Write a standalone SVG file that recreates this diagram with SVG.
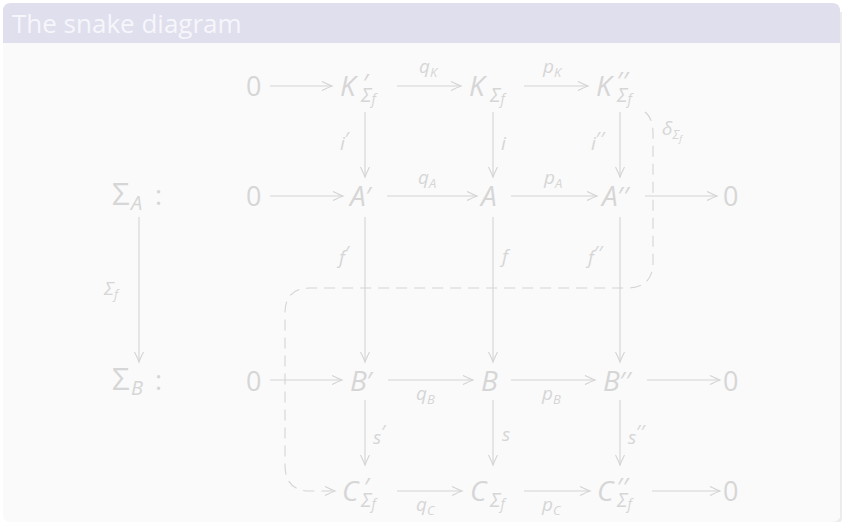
<svg xmlns="http://www.w3.org/2000/svg" width="843" height="528" viewBox="0 0 843 528">
<defs>
<style>
.t{font-family:"Open Sans","DejaVu Sans",sans-serif;fill:#d6d6d6}
.m{font-size:28px;font-style:italic}
.n{font-size:27px;font-style:normal}
.p{font-size:26px;font-style:normal}
.s{font-size:20px;font-style:italic}
.f{font-size:14px;font-style:italic}
.l{font-size:19px;font-style:italic}
.ls{font-size:13px;font-style:italic}
.lp{font-size:20px;font-style:normal}
.e{stroke:#d4d4d4;stroke-width:1.1;fill:none}
.d{stroke-dasharray:11 7}
.hd{fill:none;stroke:#d4d4d4;stroke-width:1.1}
</style>
<marker id="ah" markerUnits="userSpaceOnUse" markerWidth="14" markerHeight="14" refX="0" refY="0" viewBox="-12 -7 14 14" orient="auto">
<path class="hd" d="M-10,-4.5 Q-3,-1 0,0 Q-3,1 -10,4.5"/>
</marker>
</defs>
<rect x="0" y="0" width="843" height="528" fill="#ffffff"/>
<path d="M6,522 L840,522 Q842,522 842,518 L842,12 L840,12 L840,518 Z" fill="#ececec"/>
<path d="M3,43 L840,43 L840,514 Q840,522 832,522 L11,522 Q3,522 3,514 Z" fill="#fafafa"/>
<path d="M3,43 L3,11 Q3,3 11,3 L832,3 Q840,3 840,11 L840,43 Z" fill="#dfdfed"/>
<text id="title" x="12" y="33" style="font-family:'Open Sans','DejaVu Sans',sans-serif;font-size:26px;fill:#f6f6fb">The snake diagram</text>

<g id="connectors">
<path class="e" d="M270,86 L332,86" marker-end="url(#ah)"/>
<path class="e" d="M397,86 L461,86" marker-end="url(#ah)"/>
<path class="e" d="M524,86 L588,86" marker-end="url(#ah)"/>
<path class="e" d="M365,112 L365,177" marker-end="url(#ah)"/>
<path class="e" d="M493,112 L493,177" marker-end="url(#ah)"/>
<path class="e" d="M620,112 L620,177" marker-end="url(#ah)"/>
<path class="e" d="M270,196 L343,196" marker-end="url(#ah)"/>
<path class="e" d="M387,196 L477,196" marker-end="url(#ah)"/>
<path class="e" d="M511,196 L597,196" marker-end="url(#ah)"/>
<path class="e" d="M645,196 L717,196" marker-end="url(#ah)"/>
<path class="e" d="M139,217 L139,362" marker-end="url(#ah)"/>
<path class="e" d="M365,217 L365,362" marker-end="url(#ah)"/>
<path class="e" d="M493,217 L493,362" marker-end="url(#ah)"/>
<path class="e" d="M620,217 L620,362" marker-end="url(#ah)"/>
<path class="e" d="M270,380 L342,380" marker-end="url(#ah)"/>
<path class="e" d="M388,380 L473,380" marker-end="url(#ah)"/>
<path class="e" d="M511,380 L595,380" marker-end="url(#ah)"/>
<path class="e" d="M647,380 L720,380" marker-end="url(#ah)"/>
<path class="e" d="M365,400 L365,465" marker-end="url(#ah)"/>
<path class="e" d="M493,400 L493,465" marker-end="url(#ah)"/>
<path class="e" d="M620,400 L620,465" marker-end="url(#ah)"/>
<path class="e" d="M397,491 L462,491" marker-end="url(#ah)"/>
<path class="e" d="M524,491 L590,491" marker-end="url(#ah)"/>
<path class="e" d="M652,491 L720,491" marker-end="url(#ah)"/>
<path class="e d" d="M645,112 Q653,118 653,134 L653,262 Q653,288 627,288 L310,288 Q285,288 285,313 L285,465 Q285,491 310,491 L335,491" marker-end="url(#ah)"/>
</g>

<g id="labels" class="t">
<text class="l" x="419" y="73">q<tspan class="ls" dy="4">K</tspan></text>
<text class="l" x="543" y="73">p<tspan class="ls" dy="4">K</tspan></text>
<text class="l" x="340" y="150">i<tspan class="lp" dy="-4">′</tspan></text>
<text class="l" x="501" y="150">i</text>
<text class="l" x="591" y="150">i<tspan class="lp" dy="-4">′′</tspan></text>
<text class="l" x="662" y="135">δ<tspan class="ls" dy="4">Σ</tspan><tspan style="font-size:9px;font-style:italic" dy="3">f</tspan></text>
<text class="l" x="418" y="184">q<tspan class="ls" dy="4">A</tspan></text>
<text class="l" x="544" y="184">p<tspan class="ls" dy="4">A</tspan></text>
<text class="l" x="104" y="295">Σ<tspan class="ls" dy="4">f</tspan></text>
<text class="l" x="339" y="264">f<tspan class="lp" dy="-4">′</tspan></text>
<text class="l" x="502" y="263">f</text>
<text class="l" x="588" y="264">f<tspan class="lp" dy="-4">′′</tspan></text>
<text class="l" x="416" y="400">q<tspan class="ls" dy="4">B</tspan></text>
<text class="l" x="542" y="400">p<tspan class="ls" dy="4">B</tspan></text>
<text class="l" x="373" y="444">s<tspan class="lp" dy="-5">′</tspan></text>
<text class="l" x="502" y="441">s</text>
<text class="l" x="628" y="444">s<tspan class="lp" dy="-5">′′</tspan></text>
<text class="l" x="416" y="511">q<tspan class="ls" dy="4">C</tspan></text>
<text class="l" x="542" y="511">p<tspan class="ls" dy="4">C</tspan></text>
</g>

<g id="sigmaA" class="t"><text class="n" x="112" y="205" style="font-size:31px">Σ<tspan class="s" x="131" y="210">A</tspan><tspan class="n" x="155" y="205">:</tspan></text></g>
<g id="sigmaB" class="t"><text class="n" x="112" y="390" style="font-size:31px">Σ<tspan class="s" x="131" y="395">B</tspan><tspan class="n" x="155" y="390">:</tspan></text></g>

<g id="zeroK" class="t"><text class="n" x="246" y="96">0</text></g>
<g id="Kp" class="t"><text class="m" x="340" y="96">K<tspan class="p" x="363" y="92">′</tspan><tspan class="s" x="361" y="102">Σ</tspan><tspan class="f" y="104">f</tspan></text></g>
<g id="K" class="t"><text class="m" x="469" y="96">K<tspan class="s" x="490" y="102">Σ</tspan><tspan class="f" y="104">f</tspan></text></g>
<g id="Kpp" class="t"><text class="m" x="596" y="96">K<tspan class="p" x="617" y="90">′′</tspan><tspan class="s" x="617" y="102">Σ</tspan><tspan class="f" y="104">f</tspan></text></g>

<g id="zeroA" class="t"><text class="n" x="246" y="206">0</text></g>
<g id="Ap" class="t"><text class="m" x="350" y="206">A<tspan class="p" dy="-1">′</tspan></text></g>
<g id="A" class="t"><text class="m" x="481" y="206">A</text></g>
<g id="App" class="t"><text class="m" x="602" y="206">A<tspan class="p" dy="-1">′′</tspan></text></g>
<g id="zeroA2" class="t"><text class="n" x="723" y="206">0</text></g>

<g id="zeroB" class="t"><text class="n" x="246" y="391">0</text></g>
<g id="Bp" class="t"><text class="m" x="350" y="391">B<tspan class="p" dy="-1">′</tspan></text></g>
<g id="B" class="t"><text class="m" x="481" y="391">B</text></g>
<g id="Bpp" class="t"><text class="m" x="603" y="391">B<tspan class="p" dy="-1">′′</tspan></text></g>
<g id="zeroB2" class="t"><text class="n" x="723" y="391">0</text></g>

<g id="Cp" class="t"><text class="m" x="342" y="501">C<tspan class="p" x="364" y="496">′</tspan><tspan class="s" x="361" y="507">Σ</tspan><tspan class="f" y="509">f</tspan></text></g>
<g id="C" class="t"><text class="m" x="470" y="501">C<tspan class="s" x="490" y="507">Σ</tspan><tspan class="f" y="509">f</tspan></text></g>
<g id="Cpp" class="t"><text class="m" x="597" y="501">C<tspan class="p" x="617" y="496">′′</tspan><tspan class="s" x="617" y="507">Σ</tspan><tspan class="f" y="509">f</tspan></text></g>
<g id="zeroC" class="t"><text class="n" x="723" y="501">0</text></g>
</svg>
